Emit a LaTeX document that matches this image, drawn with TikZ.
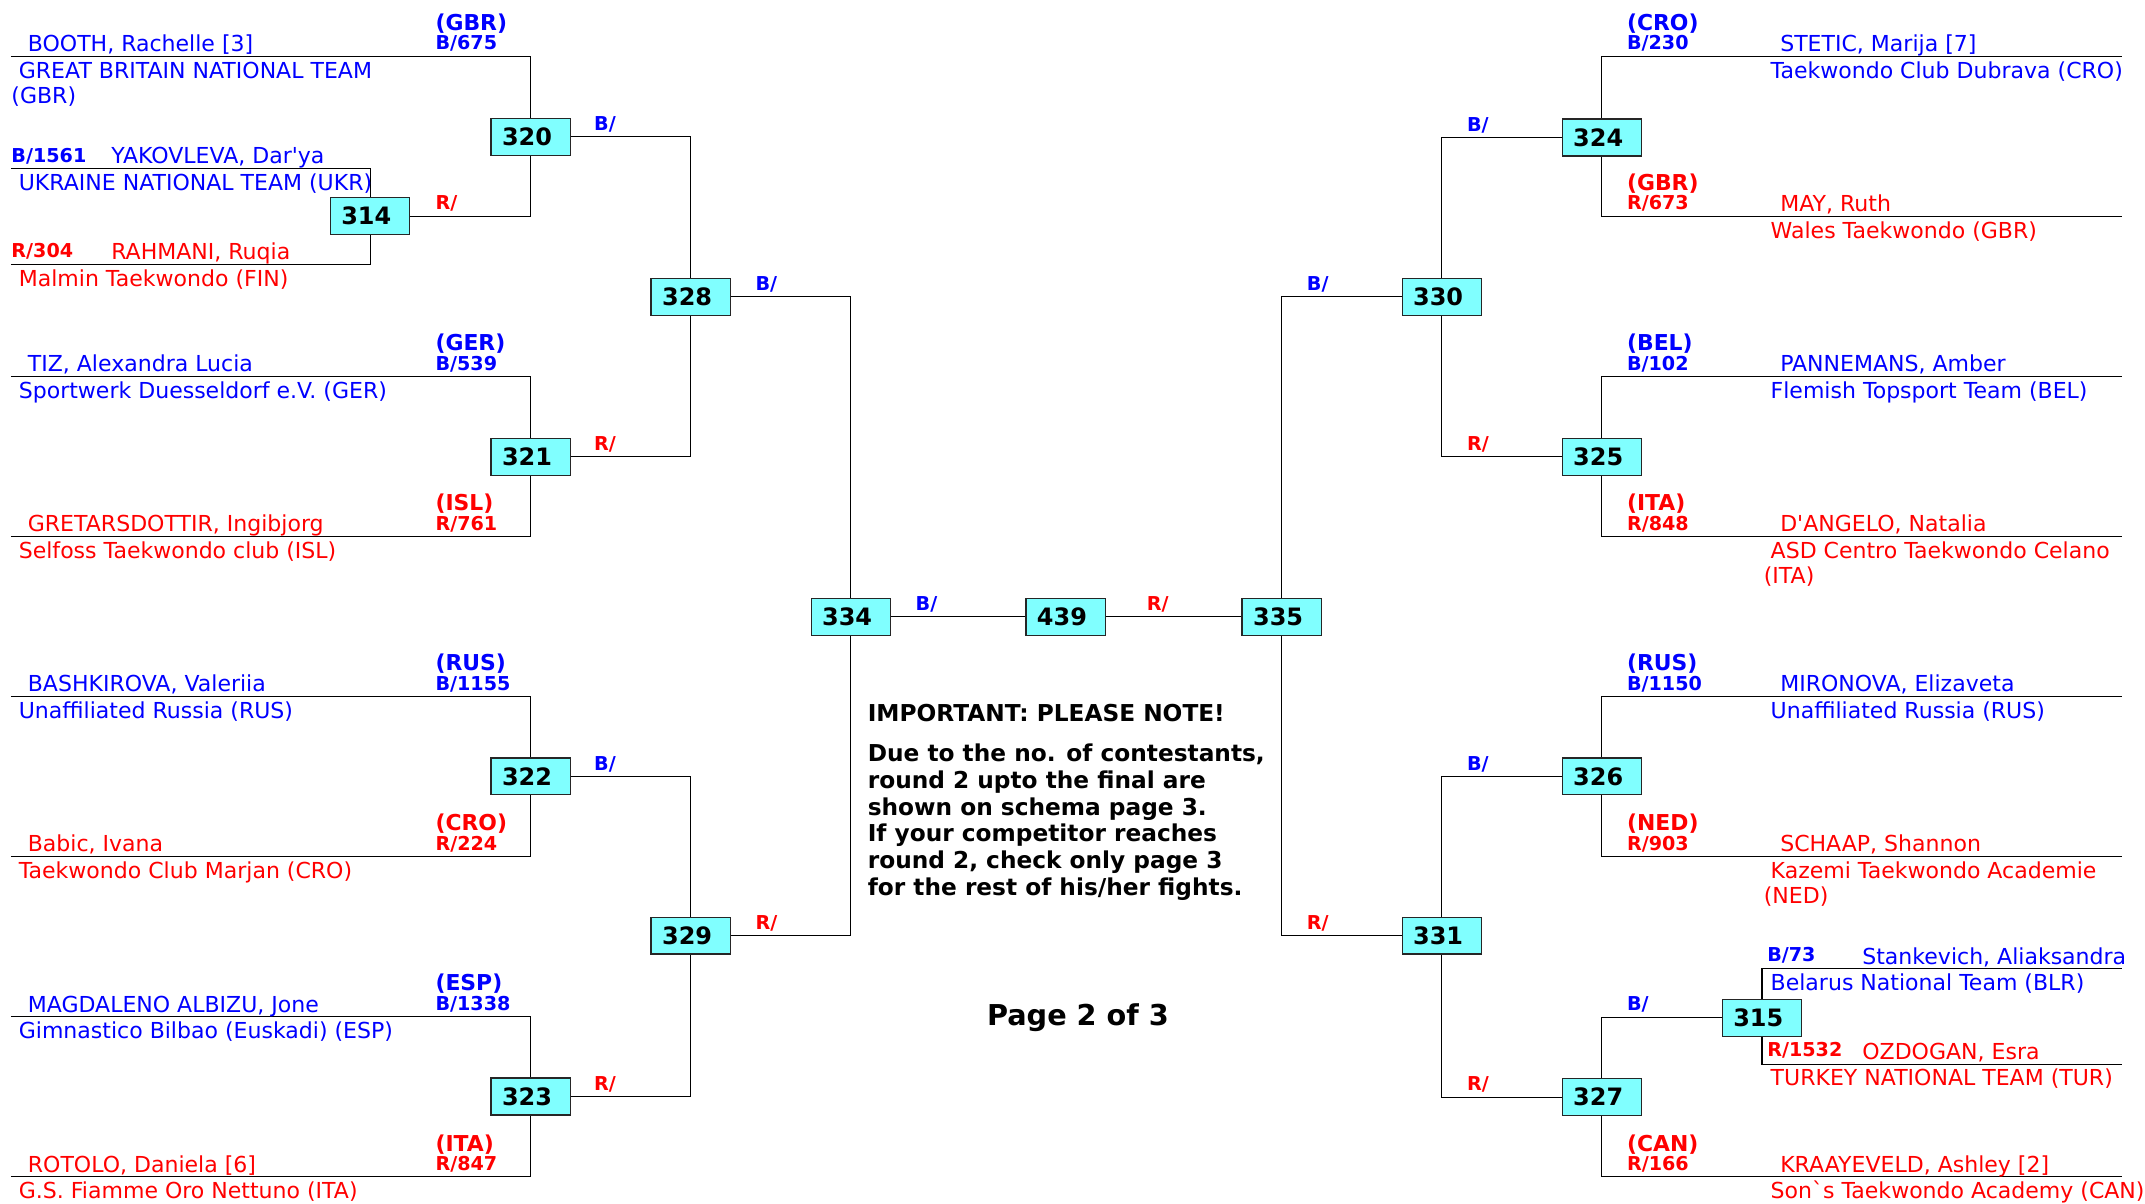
\documentclass[tikz,border=0pt]{standalone}
\usepackage{fontspec}
\setmainfont{DejaVu Sans}
\definecolor{cblue}{RGB}{0,0,255}
\definecolor{cred}{RGB}{255,0,0}
\definecolor{boxfill}{RGB}{128,255,255}
\begin{document}
\begin{tikzpicture}[x=1pt,y=-1pt,line width=0.75pt,
  match/.style={draw=black!85,line width=1pt,fill=boxfill,minimum width=58pt,minimum height=27pt,inner xsep=8pt,inner ysep=0pt,font=\fontsize{17.5}{18}\selectfont\bfseries},
  txt/.style={anchor=base west,inner sep=0pt},
  nm/.style={txt,font=\fontsize{16.1}{18}\selectfont},
  cty/.style={txt,font=\fontsize{16}{18}\selectfont\bfseries},
  code/.style={txt,font=\fontsize{14}{16}\selectfont\bfseries},
  lnk/.style={txt,font=\fontsize{14}{16}\selectfont\bfseries},
  bl/.style={text=cblue},
  rd/.style={text=cred},
  note/.style={txt,font=\fontsize{17}{19.5}\selectfont\bfseries}]
\useasboundingbox (0,0) rectangle (1568,880);

% ---------- match boxes ----------
\node[match] (m320) at (388,100) {\makebox[42pt][l]{320}};
\node[match] (m314) at (270.5,158) {\makebox[42pt][l]{314}};
\node[match] (m321) at (388,334) {\makebox[42pt][l]{321}};
\node[match] (m322) at (388,567.5) {\makebox[42pt][l]{322}};
\node[match] (m323) at (388,801.5) {\makebox[42pt][l]{323}};
\node[match] (m328) at (505,217) {\makebox[42pt][l]{328}};
\node[match] (m329) at (505,684) {\makebox[42pt][l]{329}};
\node[match] (m334) at (622,451) {\makebox[42pt][l]{334}};
\node[match] (m439) at (779,451) {\makebox[42pt][l]{439}};
\node[match] (m335) at (937,451) {\makebox[42pt][l]{335}};
\node[match] (m330) at (1054,217) {\makebox[42pt][l]{330}};
\node[match] (m331) at (1054,684) {\makebox[42pt][l]{331}};
\node[match] (m324) at (1171,100.5) {\makebox[42pt][l]{324}};
\node[match] (m325) at (1171,334) {\makebox[42pt][l]{325}};
\node[match] (m326) at (1171,567.5) {\makebox[42pt][l]{326}};
\node[match] (m327) at (1171,802) {\makebox[42pt][l]{327}};
\node[match] (m315) at (1288,744) {\makebox[42pt][l]{315}};

% ---------- competitor line ends ----------
\coordinate (cBooth) at (8,41);
\coordinate (cYak) at (8,123);
\coordinate (cRah) at (8,193);
\coordinate (cTiz) at (8,275);
\coordinate (cGre) at (8,392);
\coordinate (cBas) at (8,509);
\coordinate (cBab) at (8,626);
\coordinate (cMag) at (8,743);
\coordinate (cRot) at (8,860);
\coordinate (cSte) at (1551,41);
\coordinate (cMay) at (1551,158);
\coordinate (cPan) at (1551,275);
\coordinate (cDan) at (1551,392);
\coordinate (cMir) at (1551,509);
\coordinate (cSch) at (1551,626);
\coordinate (cSta) at (1551,708);
\coordinate (cOzd) at (1551,778);
\coordinate (cKra) at (1551,860);

% ---------- connectors ----------
\draw (cBooth) -| (m320);
\draw (cYak) -| (m314);
\draw (cRah) -| (m314);
\draw (m314) -| (m320);
\draw (cTiz) -| (m321);
\draw (cGre) -| (m321);
\draw (cBas) -| (m322);
\draw (cBab) -| (m322);
\draw (cMag) -| (m323);
\draw (cRot) -| (m323);
\draw (m320) -| (m328);
\draw (m321) -| (m328);
\draw (m322) -| (m329);
\draw (m323) -| (m329);
\draw (m328) -| (m334);
\draw (m329) -| (m334);
\draw (m334) -- (m439);
\draw (m439) -- (m335);
\draw (cSte) -| (m324);
\draw (cMay) -| (m324);
\draw (cPan) -| (m325);
\draw (cDan) -| (m325);
\draw (cMir) -| (m326);
\draw (cSch) -| (m326);
\draw (cSta) -| (m315);
\draw (cOzd) -| (m315);
\draw (cKra) -| (m327);
\draw (m315) -| (m327);
\draw (m324) -| (m330);
\draw (m325) -| (m330);
\draw (m326) -| (m331);
\draw (m327) -| (m331);
\draw (m330) -| (m335);
\draw (m331) -| (m335);

% ---------- connector labels ----------
\node[lnk,bl] (l320) at (434,95.5) {B/};
\node[lnk,rd] (l314) at (318,153.5) {R/};
\node[lnk,bl] (l328) at (552,212.5) {B/};
\node[lnk,rd] (l321) at (434,329) {R/};
\node[lnk,bl] (l322) at (434,563) {B/};
\node[lnk,rd] (l323) at (434,797) {R/};
\node[lnk,rd] (l329) at (552,679.5) {R/};
\node[lnk,bl] (l334) at (669,446) {B/};
\node[lnk,rd] (l335) at (838,446) {R/};
\node[lnk,bl] (l324) at (1072,96) {B/};
\node[lnk,rd] (l325) at (1072,329.5) {R/};
\node[lnk,bl] (l330) at (955,212.5) {B/};
\node[lnk,rd] (l331) at (955,679.5) {R/};
\node[lnk,bl] (l326) at (1072,563) {B/};
\node[lnk,rd] (l327) at (1072,797.5) {R/};
\node[lnk,bl] (l315) at (1189,739) {B/};

% ---------- left competitors ----------
\node[cty,bl] (a1) at (318,22.4) {(GBR)};
\node[code,bl] (a2) at (318,36.5) {B/675};
\node[nm,bl] (a3) at (20,37.8) {BOOTH, Rachelle [3]};
\node[nm,bl] (a4) at (13.4,57.3) {GREAT BRITAIN NATIONAL TEAM};
\node[nm,bl] (a5) at (8,76) {(GBR)};

\node[code,bl] (b1) at (8,118.5) {B/1561};
\node[nm,bl] (b2) at (81,119.8) {YAKOVLEVA, Dar\textquotesingle ya};
\node[nm,bl] (b3) at (13.4,139.3) {UKRAINE NATIONAL TEAM (UKR)};

\node[code,rd] (c1) at (8,188.5) {R/304};
\node[nm,rd] (c2) at (81,189.8) {RAHMANI, Ruqia};
\node[nm,rd] (c3) at (13.4,209.3) {Malmin Taekwondo (FIN)};

\node[cty,bl] (d1) at (318,256.4) {(GER)};
\node[code,bl] (d2) at (318,270.5) {B/539};
\node[nm,bl] (d3) at (20,271.8) {TIZ, Alexandra Lucia};
\node[nm,bl] (d4) at (13.4,291.3) {Sportwerk Duesseldorf e.V. (GER)};

\node[cty,rd] (e1) at (318,373.4) {(ISL)};
\node[code,rd] (e2) at (318,387.5) {R/761};
\node[nm,rd] (e3) at (20,388.8) {GRETARSDOTTIR, Ingibjorg};
\node[nm,rd] (e4) at (13.4,408.3) {Selfoss Taekwondo club (ISL)};

\node[cty,bl] (f1) at (318,490.4) {(RUS)};
\node[code,bl] (f2) at (318,504.5) {B/1155};
\node[nm,bl] (f3) at (20,505.8) {BASHKIROVA, Valeriia};
\node[nm,bl] (f4) at (13.4,525.3) {Unaffiliated Russia (RUS)};

\node[cty,rd] (g1) at (318,607.4) {(CRO)};
\node[code,rd] (g2) at (318,621.5) {R/224};
\node[nm,rd] (g3) at (20,622.8) {Babic, Ivana};
\node[nm,rd] (g4) at (13.4,642.3) {Taekwondo Club Marjan (CRO)};

\node[cty,bl] (h1) at (318,724.4) {(ESP)};
\node[code,bl] (h2) at (318,738.5) {B/1338};
\node[nm,bl] (h3) at (20,739.8) {MAGDALENO ALBIZU, Jone};
\node[nm,bl] (h4) at (13.4,759.3) {Gimnastico Bilbao (Euskadi) (ESP)};

\node[cty,rd] (i1) at (318,841.4) {(ITA)};
\node[code,rd] (i2) at (318,855.5) {R/847};
\node[nm,rd] (i3) at (20,856.8) {ROTOLO, Daniela [6]};
\node[nm,rd] (i4) at (13.4,876.3) {G.S. Fiamme Oro Nettuno (ITA)};

% ---------- right competitors ----------
\node[cty,bl] (j1) at (1189,22.4) {(CRO)};
\node[code,bl] (j2) at (1189,36.5) {B/230};
\node[nm,bl] (j3) at (1301,37.8) {STETIC, Marija [7]};
\node[nm,bl] (j4) at (1294,57.3) {Taekwondo Club Dubrava (CRO)};

\node[cty,rd] (k1) at (1189,139.4) {(GBR)};
\node[code,rd] (k2) at (1189,153.5) {R/673};
\node[nm,rd] (k3) at (1301,154.8) {MAY, Ruth};
\node[nm,rd] (k4) at (1294,174.3) {Wales Taekwondo (GBR)};

\node[cty,bl] (n1) at (1189,256.4) {(BEL)};
\node[code,bl] (n2) at (1189,270.5) {B/102};
\node[nm,bl] (n3) at (1301,271.8) {PANNEMANS, Amber};
\node[nm,bl] (n4) at (1294,291.3) {Flemish Topsport Team (BEL)};

\node[cty,rd] (o1) at (1189,373.4) {(ITA)};
\node[code,rd] (o2) at (1189,387.5) {R/848};
\node[nm,rd] (o3) at (1301,388.8) {D\textquotesingle ANGELO, Natalia};
\node[nm,rd] (o4) at (1294,408.3) {ASD Centro Taekwondo Celano};
\node[nm,rd] (o5) at (1289,426.8) {(ITA)};

\node[cty,bl] (p1) at (1189,490.4) {(RUS)};
\node[code,bl] (p2) at (1189,504.5) {B/1150};
\node[nm,bl] (p3) at (1301,505.8) {MIRONOVA, Elizaveta};
\node[nm,bl] (p4) at (1294,525.3) {Unaffiliated Russia (RUS)};

\node[cty,rd] (q1) at (1189,607.4) {(NED)};
\node[code,rd] (q2) at (1189,621.5) {R/903};
\node[nm,rd] (q3) at (1301,622.8) {SCHAAP, Shannon};
\node[nm,rd] (q4) at (1294,642.3) {Kazemi Taekwondo Academie};
\node[nm,rd] (q5) at (1289,660.8) {(NED)};

\node[code,bl] (s1) at (1291.5,702.5) {B/73};
\node[nm,bl] (s2) at (1361,704.7) {Stankevich, Aliaksandra};
\node[nm,bl] (s3) at (1294,723.7) {Belarus National Team (BLR)};

\node[code,rd] (u1) at (1291.5,772.5) {R/1532};
\node[nm,rd] (u2) at (1361,774.7) {OZDOGAN, Esra};
\node[nm,rd] (u3) at (1294,793.7) {TURKEY NATIONAL TEAM (TUR)};

\node[cty,rd] (v1) at (1189,841.4) {(CAN)};
\node[code,rd] (v2) at (1189,855.5) {R/166};
\node[nm,rd] (v3) at (1301,856.8) {KRAAYEVELD, Ashley [2]};
\node[nm,rd] (v4) at (1294,876.3) {Son\textasciigrave s Taekwondo Academy (CAN)};

% ---------- note ----------
\node[note] (imp) at (634,527.6) {IMPORTANT: PLEASE NOTE!};
\node[note,align=left,anchor=north west] (due) at (634,543.5) {Due to the no. of contestants,\\round 2 upto the final are\\shown on schema page 3.\\If your competitor reaches\\round 2, check only page 3\\for the rest of his/her fights.};
\node[txt,anchor=base,font=\fontsize{21}{24}\selectfont\bfseries] (page) at (788,749.3) {Page 2 of 3};
\end{tikzpicture}
\end{document}
